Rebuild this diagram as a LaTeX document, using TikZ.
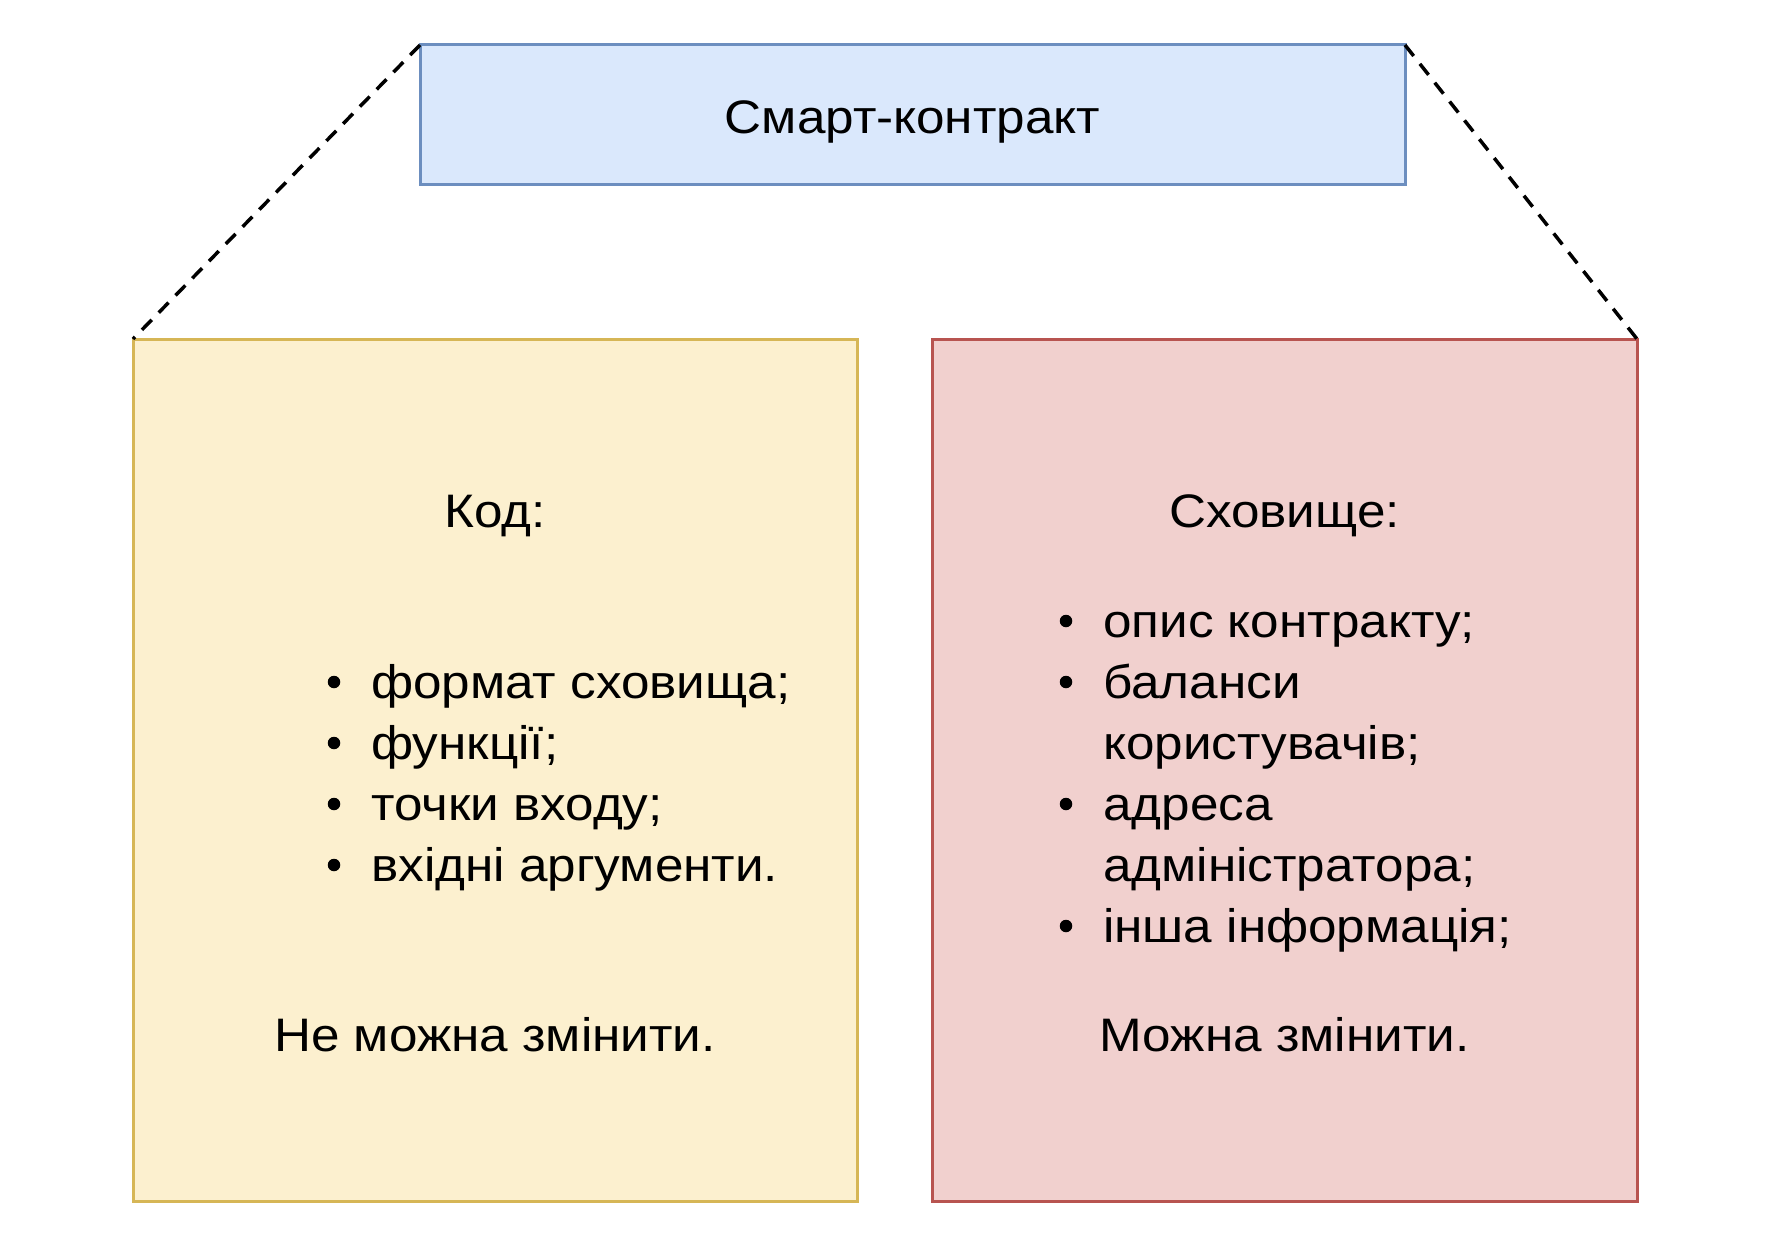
\documentclass[tikz,border=0pt]{standalone}
\usepackage{fontspec}
\setmainfont{Liberation Sans}[FakeStretch=1.09]
\definecolor{bluefill}{HTML}{DAE8FC}
\definecolor{bluedraw}{HTML}{6C8EBF}
\definecolor{yellowfill}{HTML}{FCF0CF}
\definecolor{yellowdraw}{HTML}{D6B656}
\definecolor{redfill}{HTML}{F1D0CE}
\definecolor{reddraw}{HTML}{B85450}
\begin{document}
\begin{tikzpicture}[x=1pt,y=-1pt,
  boxbase/.style={draw, line width=3pt, inner sep=0pt, outer sep=0pt},
  bluebox/.style={boxbase, fill=bluefill, draw=bluedraw},
  yellowbox/.style={boxbase, fill=yellowfill, draw=yellowdraw},
  redbox/.style={boxbase, fill=redfill, draw=reddraw},
  txt/.style={font=\fontsize{47}{56}\selectfont, inner sep=0pt, anchor=base},
  itemtxt/.style={txt, anchor=base west},
  bulletdot/.style={circle, fill=black, inner sep=0pt, minimum size=12.5pt},
  dashline/.style={draw=black, line width=3.5pt, dash pattern=on 14pt off 10pt}
]
\useasboundingbox (0,0) rectangle (1788,1244);
% boxes
\node[bluebox, minimum width=985pt, minimum height=139pt] (top) at (912.5,114.5) {};
\node[yellowbox, minimum width=724pt, minimum height=862pt] (code) at (495,770) {};
\node[redbox, minimum width=705pt, minimum height=862pt] (store) at (1284.5,770) {};
% dashed connectors
\draw[dashline] (top.north west) -- (code.north west);
\draw[dashline] (top.north east) -- (store.north east);
% title
\node[txt] (title) at (912.5,134) {Смарт-контракт};
% left box text
\node[txt] (kod) at (495,527) {Код:};
\node[bulletdot] (lb1) at (334,682) {};
\node[itemtxt] (li1) at (371,698) {формат сховища;};
\node[bulletdot] (lb2) at (334,743) {};
\node[itemtxt] (li2) at (371,759) {функції;};
\node[bulletdot] (lb3) at (334,804) {};
\node[itemtxt] (li3) at (371,820) {точки входу;};
\node[bulletdot] (lb4) at (334,865) {};
\node[itemtxt] (li4) at (371,881) {вхідні аргументи.};
\node[txt] (nochange) at (495,1051) {Не можна змінити.};
% right box text
\node[txt] (storetitle) at (1284.5,527) {Сховище:};
\node[bulletdot] (rb1) at (1066,621) {};
\node[itemtxt] (ri1) at (1103,637) {опис контракту;};
\node[bulletdot] (rb2) at (1066,682) {};
\node[itemtxt] (ri2) at (1103,698) {баланси};
\node[itemtxt] (ri2b) at (1103,759) {користувачів;};
\node[bulletdot] (rb3) at (1066,804) {};
\node[itemtxt] (ri3) at (1103,820) {адреса};
\node[itemtxt] (ri3b) at (1103,881) {адміністратора;};
\node[bulletdot] (rb4) at (1066,926) {};
\node[itemtxt] (ri4) at (1103,942) {інша інформація;};
\node[txt] (canchange) at (1284.5,1051) {Можна змінити.};
\end{tikzpicture}
\end{document}
